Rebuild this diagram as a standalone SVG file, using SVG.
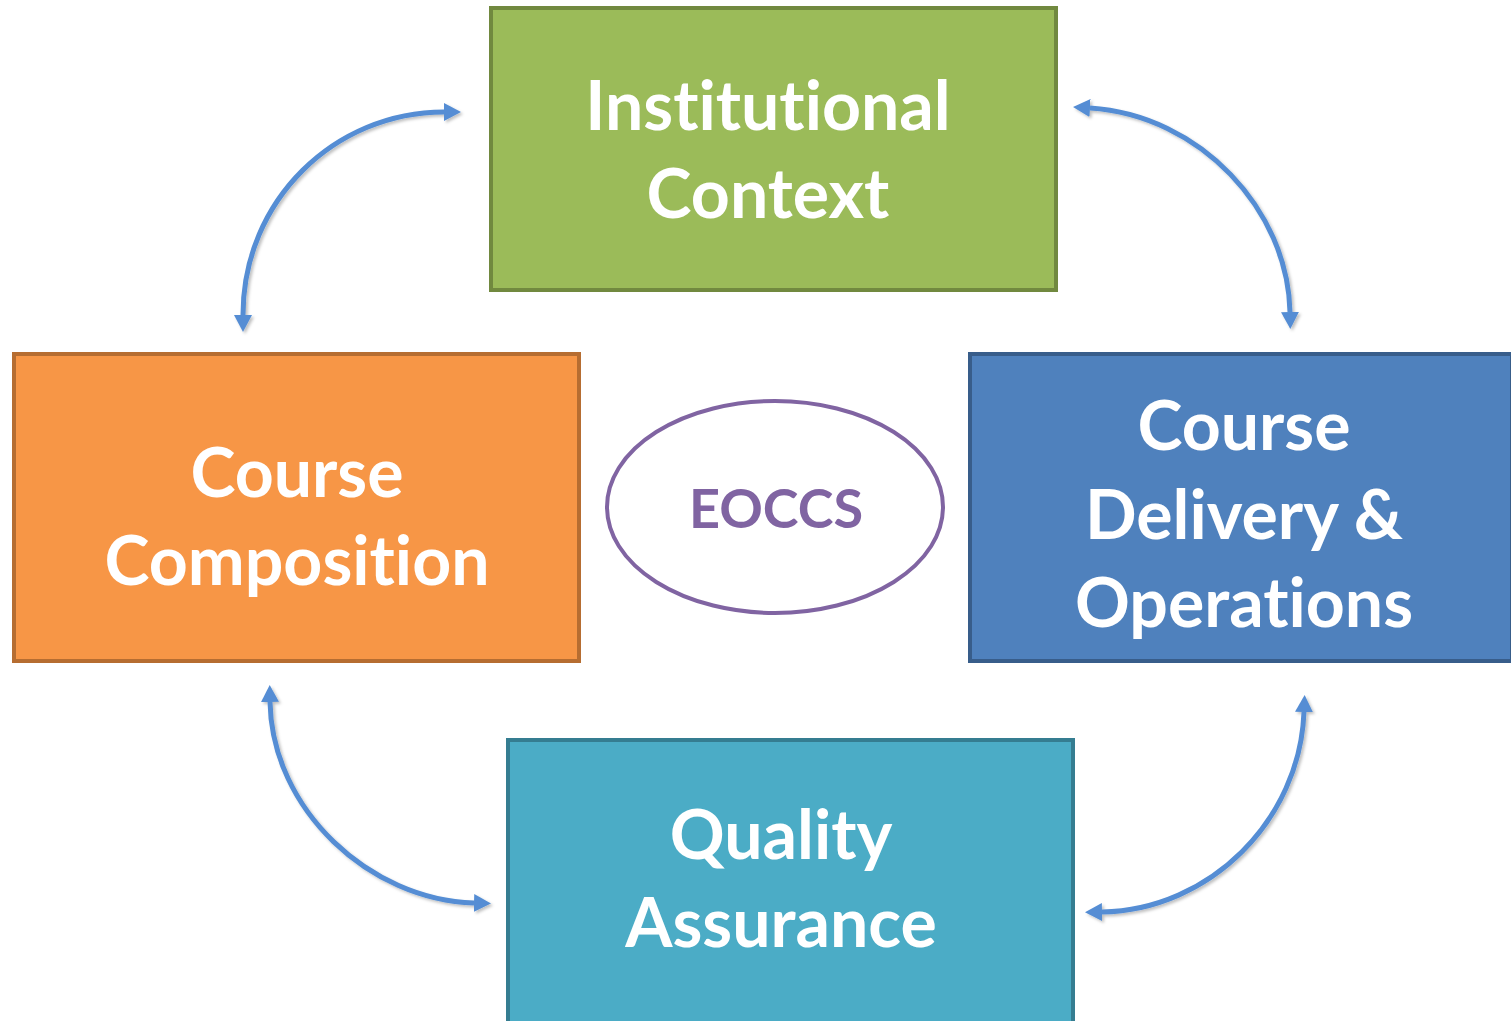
<svg xmlns="http://www.w3.org/2000/svg" width="1511" height="1021" viewBox="0 0 1511 1021">
<defs>
<style>
.lbl{font-family:Lato,"Open Sans","Liberation Sans",sans-serif;font-weight:bold;font-size:68px;fill:#ffffff;text-anchor:middle;font-variant-ligatures:none;font-feature-settings:"liga" 0}
.box{stroke-width:4}
.conn{fill:none;stroke:#548DD4;stroke-width:5}
</style>
<marker id="ah" viewBox="0 0 18 18" markerWidth="18" markerHeight="18" refX="0" refY="9" orient="auto-start-reverse" markerUnits="userSpaceOnUse">
<path d="M0,0 L17,9 L0,18 z" fill="#548DD4"/>
</marker>
<filter id="sh" x="-10%" y="-10%" width="130%" height="130%">
<feDropShadow dx="2" dy="2" stdDeviation="1.5" flood-color="#000" flood-opacity="0.25"/>
</filter>
</defs>
<rect width="1511" height="1021" fill="#ffffff"/>
<g id="connectors" filter="url(#sh)">
<path class="conn" d="M243,315 C243,200 335,112 444,112" marker-start="url(#ah)" marker-end="url(#ah)"/>
<path class="conn" d="M1090,108 C1200,115 1288,210 1290,312" marker-start="url(#ah)" marker-end="url(#ah)"/>
<path class="conn" d="M270,702 C272,810 370,900 474,903" marker-start="url(#ah)" marker-end="url(#ah)"/>
<path class="conn" d="M1304,712 C1300,820 1210,910 1102,912" marker-start="url(#ah)" marker-end="url(#ah)"/>
</g>
<g id="institutional">
<rect class="box" x="491" y="8" width="565" height="282" fill="#9BBB59" stroke="#71893F"/>
<text class="lbl" x="768" y="130">Institutional</text>
<text class="lbl" x="768" y="218">Context</text>
</g>
<g id="composition">
<rect class="box" x="14" y="354" width="565" height="307" fill="#F79646" stroke="#B66D31"/>
<text class="lbl" x="297" y="497">Course</text>
<text class="lbl" x="297" y="585">Composition</text>
</g>
<g id="delivery">
<rect class="box" x="970" y="354" width="542" height="307" fill="#4F81BD" stroke="#385D8A"/>
<text class="lbl" x="1244" y="450">Course</text>
<text class="lbl" x="1244" y="539">Delivery &amp;</text>
<text class="lbl" x="1244" y="627">Operations</text>
</g>
<g id="quality">
<rect class="box" x="508" y="740" width="565" height="290" fill="#4BACC6" stroke="#357D91"/>
<text class="lbl" x="781" y="859">Quality</text>
<text class="lbl" x="781" y="947">Assurance</text>
</g>
<g id="eoccs">
<ellipse cx="775" cy="507" rx="168" ry="106" fill="#ffffff" stroke="#8064A2" stroke-width="4"/>
<text x="776" y="528" font-family="Lato,'Open Sans','Liberation Sans',sans-serif" font-weight="bold" font-size="54" fill="#8064A2" text-anchor="middle">EOCCS</text>
</g>
</svg>
